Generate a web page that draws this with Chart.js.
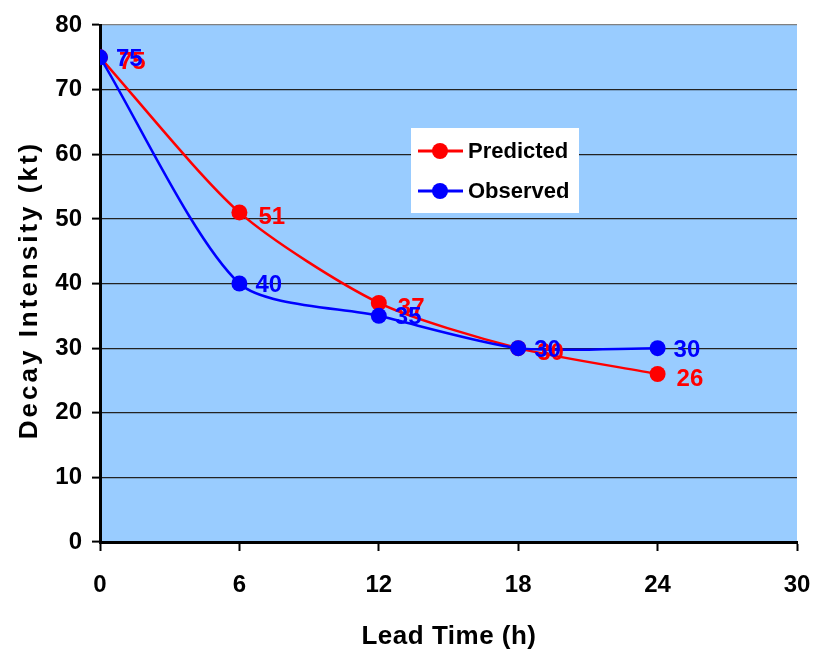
<!DOCTYPE html>
<html lang="en">
<head>
    <meta charset="UTF-8">
    <title>Decay Intensity</title>
    <style>
        html, body { margin: 0; padding: 0; background: #fff; }
        #wrap { width: 813px; height: 657px; }
    </style>
</head>
<body>

<div id="wrap"><canvas id="myCanvas" width="813" height="657"></canvas></div>

<script src="https://cdn.jsdelivr.net/npm/chart.js@4.4.1/dist/chart.umd.min.js"></script>
<script>

// lead time (h) and intensity (kt)
var leadHours = [0, 6, 12, 18, 24];
var predicted = [75, 51, 37, 30, 26];
var observed = [75, 40, 35, 30, 30];

var xTicks = [0, 6, 12, 18, 24, 30];
var yTicks = [0, 10, 20, 30, 40, 50, 60, 70, 80];

var FONT = "'Liberation Sans', Arial, sans-serif";

function toPoints(values) {
    return leadHours.map(function (h, i) { return {x: h, y: values[i]}; });
}

// light blue plot area
var plotBackground = {
    id: 'plotBackground',
    beforeDraw: function (chart) {
        var a = chart.chartArea;
        var ctx = chart.ctx;
        ctx.save();
        ctx.fillStyle = '#99CCFF';
        ctx.fillRect(a.left, a.top, a.right - a.left, a.bottom - a.top);
        ctx.restore();
    }
};

// value labels to the right of each marker
var valueLabels = {
    id: 'valueLabels',
    afterDatasetsDraw: function (chart) {
        var ctx = chart.ctx;
        ctx.save();
        ctx.font = 'bold 24px ' + FONT;
        ctx.textBaseline = 'middle';
        ctx.textAlign = 'left';
        // red first, blue on top
        [0, 1].forEach(function (di) {
            var ds = chart.data.datasets[di];
            var meta = chart.getDatasetMeta(di);
            var shift = di === 0 ? 3 : 0;
            ctx.fillStyle = ds.borderColor;
            meta.data.forEach(function (pt, i) {
                ctx.fillText(String(ds.data[i].y), pt.x + 16 + shift, pt.y + 2 + shift);
            });
        });
        ctx.restore();
    }
};

// boxed legend inside the plot, and the axis titles
var decorations = {
    id: 'decorations',
    afterDraw: function (chart) {
        var ctx = chart.ctx;
        ctx.save();

        // legend box
        ctx.fillStyle = '#ffffff';
        ctx.fillRect(411, 128, 168, 85);
        ctx.font = 'bold 22px ' + FONT;
        ctx.textBaseline = 'middle';
        ctx.textAlign = 'left';
        var rows = [151, 191];
        chart.data.datasets.forEach(function (ds, i) {
            var y = rows[i];
            ctx.strokeStyle = ds.borderColor;
            ctx.lineWidth = 3;
            ctx.beginPath();
            ctx.moveTo(418, y);
            ctx.lineTo(463, y);
            ctx.stroke();
            ctx.fillStyle = ds.borderColor;
            ctx.beginPath();
            ctx.arc(440, y, 8, 0, Math.PI * 2);
            ctx.fill();
            ctx.fillStyle = '#000';
            ctx.fillText(ds.label, 468, y + 1);
        });

        // x title
        ctx.fillStyle = '#000';
        ctx.textAlign = 'center';
        ctx.font = 'bold 26px ' + FONT;
        ctx.letterSpacing = '0.5px';
        ctx.fillText('Lead Time (h)', 449, 637);

        // y title, rotated
        ctx.translate(30, 290);
        ctx.rotate(-Math.PI / 2);
        ctx.font = 'bold 26px ' + FONT;
        ctx.letterSpacing = '3px';
        ctx.fillText('Decay Intensity (kt)', 0, 0);

        ctx.restore();
    }
};

var canvas = document.getElementById('myCanvas');
var context = canvas.getContext('2d');

var decayChart = new Chart(context, {
    type: 'line',
    data: {
        datasets: [
            {
                label: 'Predicted',
                data: toPoints(predicted),
                borderColor: '#FF0000',
                backgroundColor: '#FF0000',
                borderWidth: 2.5,
                pointRadius: 8,
                pointBorderWidth: 0,
                tension: 0.25,
                order: 2
            },
            {
                label: 'Observed',
                data: toPoints(observed),
                borderColor: '#0000FF',
                backgroundColor: '#0000FF',
                borderWidth: 2.5,
                pointRadius: 8,
                pointBorderWidth: 0,
                tension: 0.25,
                order: 1
            }
        ]
    },
    options: {
        responsive: false,
        animation: false,
        layout: {padding: {left: 0, top: 25, right: 16, bottom: 0}},
        plugins: {
            legend: {display: false},
            tooltip: {enabled: false}
        },
        scales: {
            x: {
                type: 'linear',
                min: 0,
                max: 30,
                afterBuildTicks: function (scale) {
                    scale.ticks = xTicks.map(function (v) { return {value: v}; });
                },
                afterFit: function (scale) {
                    scale.height = 115;
                    scale.paddingLeft = 0;
                    scale.paddingRight = 0;
                },
                border: {color: '#000', width: 3},
                grid: {
                    drawOnChartArea: false,
                    tickLength: 9,
                    tickColor: '#000',
                    tickWidth: 2
                },
                ticks: {
                    color: '#000',
                    padding: 20,
                    maxRotation: 0,
                    font: {family: FONT, size: 24, weight: 'bold'}
                }
            },
            y: {
                min: 0,
                max: 80,
                afterBuildTicks: function (scale) {
                    scale.ticks = yTicks.map(function (v) { return {value: v}; });
                },
                afterFit: function (scale) { scale.width = 100; },
                border: {color: '#000', width: 3},
                grid: {
                    color: function (c) { return c.tick && c.tick.value === 80 ? '#808080' : '#222'; },
                    lineWidth: 1.2,
                    tickLength: 8,
                    tickColor: '#000',
                    tickWidth: 2
                },
                ticks: {
                    color: '#000',
                    padding: 10,
                    font: {family: FONT, size: 24, weight: 'bold'}
                }
            }
        }
    },
    plugins: [plotBackground, valueLabels, decorations]
});

</script>
</body>
</html>
